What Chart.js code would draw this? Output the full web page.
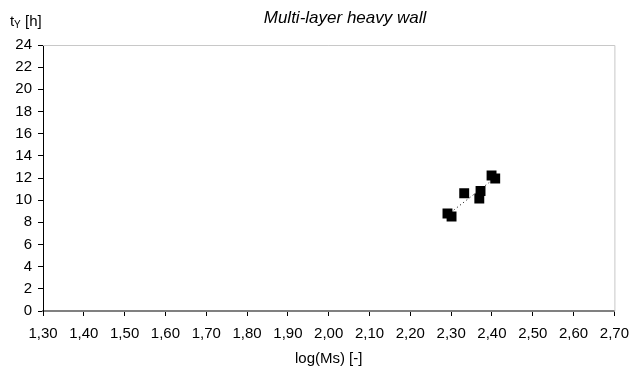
<!DOCTYPE html>
<html>
<head>
<meta charset="utf-8">
<script src="https://cdn.jsdelivr.net/npm/chart.js@4/dist/chart.umd.min.js"></script>
<style>
  html, body { margin: 0; padding: 0; background: #fff; }
  #wrap { width: 638px; height: 369px; }
</style>
</head>
<body>
<div id="wrap"><canvas id="chart"></canvas></div>
<script>
// values
const logMs = [2.291, 2.301, 2.332, 2.372, 2.369, 2.399, 2.408];
const tY = [8.80, 8.53, 10.63, 10.83, 10.15, 12.23, 11.96];

const chartTitle = 'Multi-layer heavy wall';
const xTitle = 'log(Ms) [-]';

// linear trend line through the points
function trend(xs, ys) {
    const n = xs.length;
    const mx = xs.reduce((a, b) => a + b, 0) / n;
    const my = ys.reduce((a, b) => a + b, 0) / n;
    let num = 0, den = 0;
    xs.forEach((x, i) => { num += (x - mx) * (ys[i] - my); den += (x - mx) * (x - mx); });
    const k = num / den;
    const x0 = Math.min(...xs), x1 = Math.max(...xs);
    return [{ x: x0, y: my + k * (x0 - mx) }, { x: x1, y: my + k * (x1 - mx) }];
}

const font = 'Liberation Sans, Arial, sans-serif';

// titles and the light frame on top / right
const decor = {
    id: 'decor',
    afterDraw(chart) {
        const ctx = chart.ctx;
        const a = chart.chartArea;
        ctx.save();
        ctx.strokeStyle = '#c8c8c8';
        ctx.lineWidth = 1;
        ctx.beginPath();
        ctx.moveTo(a.left, a.top + 0.5);
        ctx.lineTo(a.right + 0.5, a.top + 0.5);
        ctx.lineTo(a.right + 0.5, a.bottom);
        ctx.stroke();

        ctx.fillStyle = '#000';
        ctx.textBaseline = 'middle';
        ctx.textAlign = 'center';
        ctx.font = 'italic 17px ' + font;
        ctx.fillText(chartTitle, 345, 18);

        ctx.font = '15px ' + font;
        ctx.fillText(xTitle, (a.left + a.right) / 2, 359);

        ctx.textAlign = 'left';
        ctx.fillText('t', 10, 22);
        ctx.font = '10px ' + font;
        ctx.fillText('Y', 14, 25);
        ctx.font = '15px ' + font;
        ctx.fillText('[h]', 25, 22);
        ctx.restore();
    }
};

new Chart(document.getElementById('chart'), {
    type: 'scatter',
    data: {
        datasets: [{
            data: logMs.map((x, i) => ({ x: x, y: tY[i] })),
            pointStyle: 'rect',
            pointRadius: 7,
            pointHoverRadius: 7,
            backgroundColor: '#000',
            borderColor: '#000',
            borderWidth: 0
        }, {
            type: 'line',
            data: trend(logMs, tY),
            borderColor: '#000',
            borderWidth: 1,
            borderDash: [1, 3],
            pointRadius: 0,
            fill: false
        }]
    },
    options: {
        responsive: true,
        maintainAspectRatio: false,
        animation: false,
        layout: { padding: { left: 0, right: 20, top: 45, bottom: 0 } },
        plugins: {
            legend: { display: false },
            tooltip: { enabled: false }
        },
        scales: {
            x: {
                type: 'linear',
                min: 1.3,
                max: 2.7,
                afterFit: s => { s.height = 58; },
                border: { color: '#808080', width: 2 },
                grid: { drawOnChartArea: false, tickLength: 5, color: '#000' },
                ticks: {
                    stepSize: 0.1,
                    color: '#000',
                    font: { family: font, size: 15 },
                    padding: 9,
                    maxRotation: 0,
                    autoSkip: false,
                    callback: v => v.toFixed(2).replace('.', ',')
                }
            },
            y: {
                min: 0,
                max: 24,
                afterFit: s => { s.width = 43; },
                border: { color: '#000', width: 1 },
                grid: { drawOnChartArea: false, tickLength: 5, color: '#000' },
                ticks: {
                    stepSize: 2,
                    color: '#000',
                    font: { family: font, size: 15 },
                    padding: 6
                }
            }
        }
    },
    plugins: [decor]
});
</script>
</body>
</html>
